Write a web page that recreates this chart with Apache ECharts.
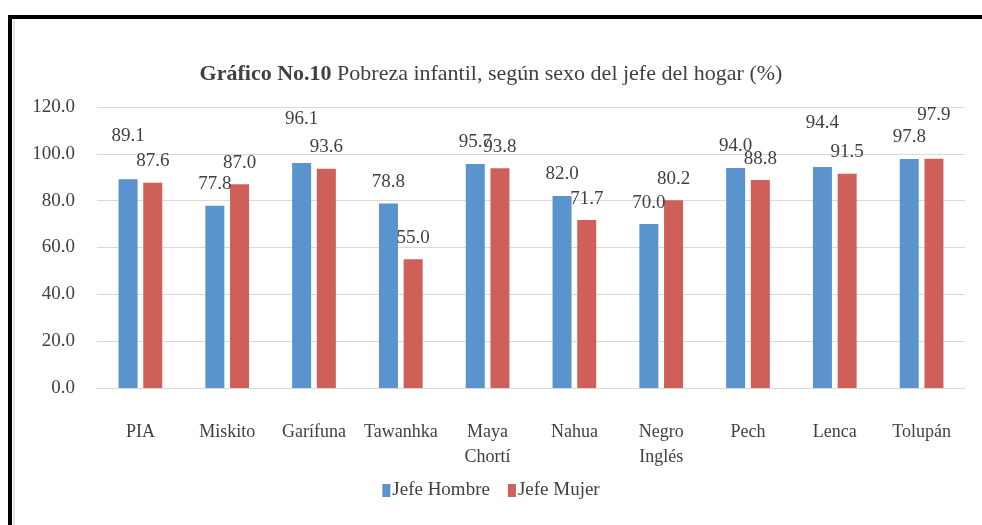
<!DOCTYPE html>
<html>
<head>
<meta charset="utf-8">
<script src="https://cdn.jsdelivr.net/npm/echarts@6/dist/echarts.min.js"></script>
<style>
  html, body { margin: 0; padding: 0; background: #fff; }
  #chart { width: 982px; height: 525px; }
</style>
</head>
<body>
<div id="chart"></div>
<script>
// datos del gráfico
var categorias = ['PIA', 'Miskito', 'Garífuna', 'Tawanhka', 'Maya\nChortí', 'Nahua', 'Negro\nInglés', 'Pech', 'Lenca', 'Tolupán'];
var jefeHombre = [89.1, 77.8, 96.1, 78.8, 95.7, 82.0, 70.0, 94.0, 94.4, 97.8];
var jefeMujer = [87.6, 87.0, 93.6, 55.0, 93.8, 71.7, 80.2, 88.8, 91.5, 97.9];
var ticksY = [0, 20, 40, 60, 80, 100, 120];

// etiquetas que en el original van más arriba
var subidasHombre = ['PIA', 'Garífuna', 'Lenca'];
var subidasMujer = ['Tolupán'];

var fuente = 'Liberation Serif';
var gris = '#404040';

function armar(valores, subidas) {
  return valores.map(function (v, i) {
    var item = { value: v };
    if (subidas.indexOf(categorias[i]) >= 0) {
      item.label = { distance: 34 };
    }
    return item;
  });
}

var myChart = echarts.init(document.getElementById('chart'));
var options = {
  animation: false,
  backgroundColor: '#fff',
  title: {
    text: '{b|Gráfico No.10} Pobreza infantil, según sexo del jefe del hogar (%)',
    left: 'center',
    top: 58,
    textStyle: {
      fontFamily: fuente,
      fontSize: 22,
      fontWeight: 'normal',
      color: gris,
      rich: {
        b: { fontFamily: fuente, fontSize: 22, fontWeight: 'bold', color: gris }
      }
    }
  },
  legend: {
    bottom: 20,
    left: 'center',
    itemWidth: 8,
    itemHeight: 13,
    itemGap: 18,
    icon: 'rect',
    textStyle: { fontFamily: fuente, fontSize: 19, color: gris, padding: [0, 0, 0, -3] },
    data: ['Jefe Hombre', 'Jefe Mujer']
  },
  grid: { left: 97, right: 17, top: 107, bottom: 137 },
  xAxis: {
    type: 'category',
    data: categorias,
    axisLine: { lineStyle: { color: '#d9d9d9' } },
    axisTick: { show: false },
    axisLabel: {
      fontFamily: fuente,
      fontSize: 18,
      color: gris,
      margin: 32,
      lineHeight: 25,
      interval: 0
    }
  },
  yAxis: {
    type: 'value',
    min: ticksY[0],
    max: ticksY[ticksY.length - 1],
    interval: 20,
    axisLine: { show: false },
    axisTick: { show: false },
    splitLine: { lineStyle: { color: '#d9d9d9' } },
    axisLabel: {
      fontFamily: fuente,
      fontSize: 19,
      color: gris,
      margin: 22,
      formatter: function (v) { return v.toFixed(1); }
    }
  },
  series: [
    {
      name: 'Jefe Hombre',
      type: 'bar',
      barWidth: 19,
      barGap: '30%',
      itemStyle: { color: '#5B93CD' },
      label: {
        show: true,
        position: 'top',
        distance: 12,
        fontFamily: fuente,
        fontSize: 19,
        color: gris,
        formatter: function (p) { return p.value.toFixed(1); }
      },
      data: armar(jefeHombre, subidasHombre)
    },
    {
      name: 'Jefe Mujer',
      type: 'bar',
      barWidth: 19,
      barGap: '30%',
      itemStyle: { color: '#CF5F59' },
      label: {
        show: true,
        position: 'top',
        distance: 12,
        fontFamily: fuente,
        fontSize: 19,
        color: gris,
        formatter: function (p) { return p.value.toFixed(1); }
      },
      data: armar(jefeMujer, subidasMujer)
    }
  ],
  graphic: [
    // marco negro (arriba e izquierda)
    { type: 'rect', left: 8, top: 15, shape: { width: 974, height: 4 }, style: { fill: '#000' } },
    { type: 'rect', left: 8, top: 15, shape: { width: 4, height: 510 }, style: { fill: '#000' } },
    { type: 'rect', left: 13, top: 19, shape: { width: 2, height: 506 }, style: { fill: '#e6e6e6' } }
  ]
};
myChart.setOption(options);
</script>
</body>
</html>
